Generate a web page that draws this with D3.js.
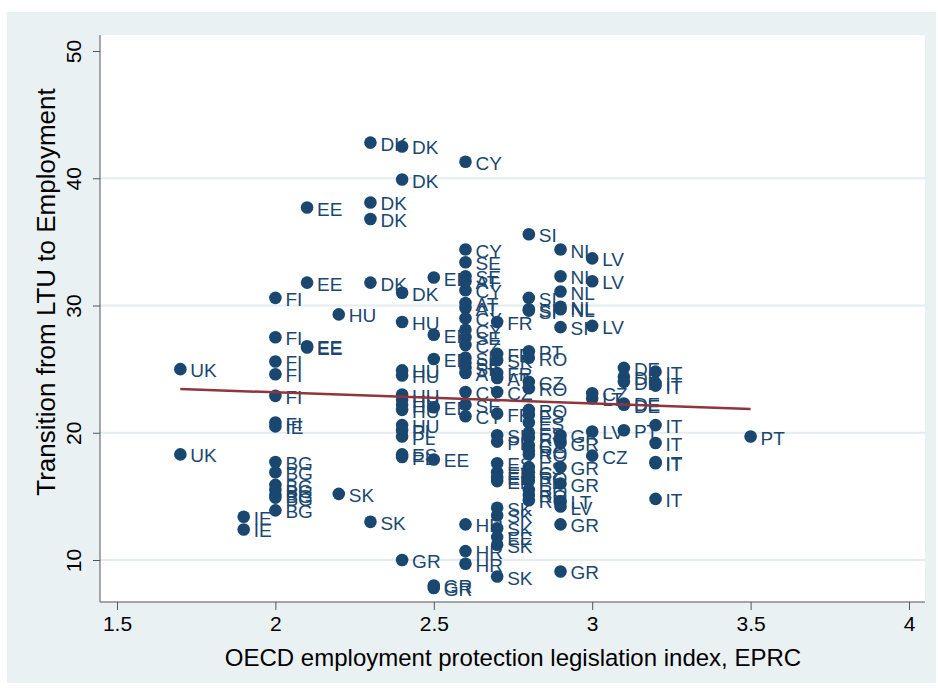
<!DOCTYPE html>
<head>
  <meta charset="utf-8">
  <script src="https://d3js.org/d3.v7.min.js"></script>
  <style>
    body { margin: 0; background: #fff; }
    svg { display: block; font-family: 'Liberation Sans', Arial, sans-serif; }
  </style>
</head>

<body>
  <svg width="938" height="689"></svg>

  <script>
    // country labels, EPRC (x) and LTU->employment transition (y), grouped by EPRC value
    const countries = [
      'UK', 'UK',
      'IE', 'IE',
      'FI', 'FI', 'FI', 'FI', 'FI', 'FI', 'IE', 'BG', 'BG', 'BG', 'BG', 'BG', 'BG', 'BG',
      'EE', 'EE', 'EE', 'EE',
      'HU', 'SK',
      'DK', 'DK', 'DK', 'DK', 'SK',
      'DK', 'DK', 'DK', 'HU', 'HU', 'HU', 'HU', 'HU', 'HU', 'HU', 'HU', 'PL', 'PL', 'ES', 'PL', 'GR',
      'EE', 'EE', 'EE', 'EE', 'EE', 'GR', 'GR',
      'CY', 'CY', 'SE', 'SE', 'AT', 'CY', 'AT', 'AT', 'CY', 'CY', 'SE', 'CZ', 'SE', 'SK', 'SE', 'AT', 'CY', 'SE', 'CY', 'HR', 'HR', 'HR',
      'FR', 'FR', 'SK', 'FR', 'AT', 'CZ', 'FR', 'SI', 'PL', 'ES', 'ES', 'EE', 'EE', 'SK', 'SK', 'SK', 'EE', 'SK', 'SK',
      'SI', 'SI', 'SI', 'SI', 'PT', 'RO', 'CZ', 'RO', 'RO', 'ES', 'ES', 'ES', 'RO', 'CZ', 'RO', 'RO', 'ES', 'CZ', 'RO', 'PL', 'RO', 'RO', 'RO',
      'NL', 'NL', 'NL', 'NL', 'NL', 'SI', 'GR', 'GR', 'GR', 'GR', 'LT', 'LV', 'GR', 'GR',
      'LV', 'LV', 'LV', 'CZ', 'LT', 'LV', 'CZ',
      'DE', 'DE', 'DE', 'DE', 'DE', 'PT',
      'IT', 'IT', 'IT', 'IT', 'IT', 'IT', 'IT', 'IT',
      'PT'
    ];
    const eprc = [
      1.7, 1.7,
      1.9, 1.9,
      2.0, 2.0, 2.0, 2.0, 2.0, 2.0, 2.0, 2.0, 2.0, 2.0, 2.0, 2.0, 2.0, 2.0,
      2.1, 2.1, 2.1, 2.1,
      2.2, 2.2,
      2.3, 2.3, 2.3, 2.3, 2.3,
      2.4, 2.4, 2.4, 2.4, 2.4, 2.4, 2.4, 2.4, 2.4, 2.4, 2.4, 2.4, 2.4, 2.4, 2.4, 2.4,
      2.5, 2.5, 2.5, 2.5, 2.5, 2.5, 2.5,
      2.6, 2.6, 2.6, 2.6, 2.6, 2.6, 2.6, 2.6, 2.6, 2.6, 2.6, 2.6, 2.6, 2.6, 2.6, 2.6, 2.6, 2.6, 2.6, 2.6, 2.6, 2.6,
      2.7, 2.7, 2.7, 2.7, 2.7, 2.7, 2.7, 2.7, 2.7, 2.7, 2.7, 2.7, 2.7, 2.7, 2.7, 2.7, 2.7, 2.7, 2.7,
      2.8, 2.8, 2.8, 2.8, 2.8, 2.8, 2.8, 2.8, 2.8, 2.8, 2.8, 2.8, 2.8, 2.8, 2.8, 2.8, 2.8, 2.8, 2.8, 2.8, 2.8, 2.8, 2.8,
      2.9, 2.9, 2.9, 2.9, 2.9, 2.9, 2.9, 2.9, 2.9, 2.9, 2.9, 2.9, 2.9, 2.9,
      3.0, 3.0, 3.0, 3.0, 3.0, 3.0, 3.0,
      3.1, 3.1, 3.1, 3.1, 3.1, 3.1,
      3.2, 3.2, 3.2, 3.2, 3.2, 3.2, 3.2, 3.2,
      3.5
    ];
    const ltu = [
      25.0, 18.3,
      13.4, 12.4,
      30.6, 27.5, 25.6, 24.6, 22.9, 20.8, 20.5, 17.7, 16.9, 15.9, 15.5, 15.1, 14.9, 13.9,
      37.7, 31.8, 26.8, 26.7,
      29.3, 15.2,
      42.8, 38.1, 36.8, 31.8, 13.0,
      42.5, 39.9, 31.0, 28.7, 24.9, 24.5, 23.0, 22.6, 22.2, 21.8, 20.6, 20.2, 19.7, 18.3, 18.1, 10.0,
      32.2, 27.7, 25.8, 22.0, 17.9, 8.0, 7.8,
      41.3, 34.4, 33.4, 32.3, 31.9, 31.2, 30.2, 29.8, 29.0, 28.1, 27.5, 26.9, 25.9, 25.5, 25.1, 24.7, 23.2, 22.2, 21.3, 12.8, 10.7, 9.7,
      28.7, 26.2, 25.7, 24.7, 24.3, 23.2, 21.5, 19.8, 19.3, 17.6, 16.9, 16.5, 16.2, 14.1, 13.5, 12.5, 11.8, 11.2, 8.7,
      35.6, 30.6, 29.7, 29.6, 26.4, 25.9, 24.0, 23.5, 21.8, 21.4, 20.8, 20.0, 19.6, 19.0, 18.6, 18.3, 17.3, 16.9, 16.5, 16.2, 15.5, 15.1, 14.7,
      34.4, 32.3, 31.1, 29.9, 29.7, 28.3, 19.8, 19.2, 17.3, 16.0, 14.6, 14.2, 12.8, 9.1,
      33.7, 31.9, 28.4, 23.1, 22.7, 20.1, 18.2,
      25.1, 24.4, 24.0, 22.3, 22.2, 20.2,
      24.8, 23.9, 23.7, 20.6, 19.2, 17.7, 17.6, 14.8,
      19.7
    ];

    // fitted line
    const fitX = [1.7, 3.5];
    const fitY = [23.44, 21.87];

    const xTicks = [1.5, 2, 2.5, 3, 3.5, 4];
    const yTicks = [10, 20, 30, 40, 50];
    const yGrid = [10, 20, 30, 40];

    const xTitle = 'OECD employment protection legislation index, EPRC';
    const yTitle = 'Transition from LTU to Employment';

    const navy = '#1a476f';
    const svg = d3.select('svg');

    // outer graph region and plot region
    svg.append('rect')
      .attr('x', 7).attr('y', 12).attr('width', 929).attr('height', 671)
      .attr('fill', '#eaf1f3');
    svg.append('rect')
      .attr('x', 100).attr('y', 35).attr('width', 825).attr('height', 567)
      .attr('fill', '#fff');

    const x = d3.scaleLinear().domain([1.5, 4]).range([117, 909]);
    const y = d3.scaleLinear().domain([10, 50]).range([560, 51]);

    // gridlines
    svg.append('g').selectAll('line')
      .data(yGrid).enter().append('line')
      .attr('x1', 100).attr('x2', 925)
      .attr('y1', d => y(d)).attr('y2', d => y(d))
      .attr('stroke', '#e3ecef')
      .attr('stroke-width', 2);

    // axes
    const xAxis = svg.append('g')
      .attr('transform', 'translate(0,602)')
      .call(d3.axisBottom(x).tickValues(xTicks).tickSize(8).tickPadding(6)
        .tickFormat(d3.format('')));
    xAxis.select('.domain').attr('d', 'M100,0H925').attr('stroke', '#555');
    xAxis.selectAll('line').attr('stroke', '#555');
    xAxis.selectAll('text')
      .attr('font-size', 21).attr('fill', '#000')
      .attr('font-family', "'Liberation Sans', Arial, sans-serif");

    const yAxis = svg.append('g')
      .attr('transform', 'translate(100,0)')
      .call(d3.axisLeft(y).tickValues(yTicks).tickSize(7).tickFormat(d3.format('')));
    yAxis.select('.domain').attr('d', 'M0,35V602').attr('stroke', '#555');
    yAxis.selectAll('line').attr('stroke', '#555');
    yAxis.selectAll('text')
      .attr('font-size', 21).attr('fill', '#000')
      .attr('font-family', "'Liberation Sans', Arial, sans-serif")
      .attr('text-anchor', 'middle')
      .attr('x', null).attr('dy', null)
      .attr('transform', 'translate(-19,0) rotate(-90)');

    // axis titles
    svg.append('text')
      .attr('x', 513).attr('y', 666)
      .attr('text-anchor', 'middle')
      .attr('font-size', 24)
      .text(xTitle);
    svg.append('text')
      .attr('transform', 'translate(55,292) rotate(-90)')
      .attr('text-anchor', 'middle')
      .attr('font-size', 26)
      .text(yTitle);

    const points = d3.range(countries.length).map(i => ({
      c: countries[i], x: eprc[i], y: ltu[i]
    }));

    // labels first, then markers over them
    svg.append('g').selectAll('text')
      .data(points).enter().append('text')
      .attr('x', d => x(d.x) + 10)
      .attr('y', d => y(d.y) + 8)
      .attr('font-size', 19)
      .attr('fill', navy)
      .text(d => d.c);

    svg.append('g').selectAll('circle')
      .data(points).enter().append('circle')
      .attr('cx', d => x(d.x))
      .attr('cy', d => y(d.y))
      .attr('r', 6.3)
      .attr('fill', navy);

    // fitted values
    svg.append('line')
      .attr('x1', x(fitX[0])).attr('y1', y(fitY[0]))
      .attr('x2', x(fitX[1])).attr('y2', y(fitY[1]))
      .attr('stroke', '#90353b')
      .attr('stroke-width', 2.5);
  </script>
</body>
